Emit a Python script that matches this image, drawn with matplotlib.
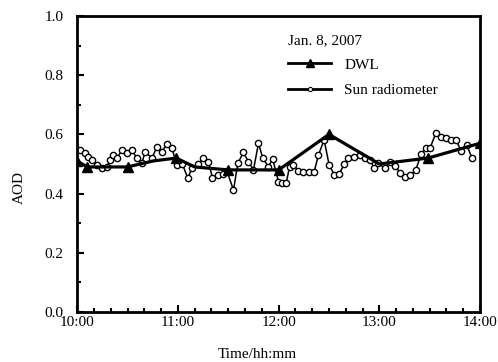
import numpy as np
import matplotlib.pyplot as plt
from matplotlib.lines import Line2D
from matplotlib.ticker import MultipleLocator

plt.rcParams['font.family'] = 'Liberation Serif'

# time axis in minutes after 10:00
tick_pos = [0, 60, 120, 180, 240]
tick_labels = ['10:00', '11:00', '12:00', '13:00', '14:00']

# DWL retrievals
dwl_min = [0, 6, 30, 45, 59, 70, 90, 120, 150, 180, 209, 240]
dwl_aod = [0.51, 0.49, 0.49, 0.51, 0.52, 0.49, 0.48, 0.48, 0.60, 0.50, 0.52, 0.57]
dwl_marked = [0, 1, 2, 4, 6, 7, 8, 10, 11]

# sun radiometer
sun_min = [1.8, 4.8, 6.7, 8.8, 11.7, 14.7, 17.7, 19.7, 21.6, 23.6, 26.6, 29.6,
           32.6, 35.6, 38.5, 40.5, 44.5, 47.5, 50.4, 53.4, 56.4, 59.4, 62.7,
           65.9, 68.3, 71.9, 75.2, 78.2, 80.6, 83.8, 86.8, 89.2, 93.1, 95.7,
           99.0, 102.0, 105.0, 108.0, 110.6, 113.9, 116.5, 119.9, 122.0, 124.5,
           126.5, 128.8, 131.8, 134.8, 137.8, 141.1, 143.7, 147.1, 150.1, 153.2,
           156.0, 159.0, 161.6, 164.9, 168.5, 171.5, 174.5, 177.0, 179.4, 183.4,
           186.4, 189.4, 192.4, 195.3, 198.3, 201.7, 204.9, 207.7, 210.2, 213.6,
           216.8, 219.8, 222.7, 225.7, 228.7, 232.1, 235.1]
sun_aod = [0.547, 0.536, 0.525, 0.513, 0.497, 0.488, 0.491, 0.513, 0.530, 0.519,
           0.547, 0.536, 0.547, 0.519, 0.502, 0.542, 0.519, 0.558, 0.542, 0.567,
           0.553, 0.497, 0.499, 0.452, 0.485, 0.499, 0.521, 0.508, 0.452, 0.463,
           0.465, 0.476, 0.412, 0.502, 0.539, 0.508, 0.480, 0.570, 0.519, 0.491,
           0.517, 0.440, 0.435, 0.435, 0.491, 0.497, 0.476, 0.472, 0.472, 0.472,
           0.530, 0.581, 0.497, 0.463, 0.465, 0.499, 0.519, 0.525, 0.530, 0.519,
           0.513, 0.485, 0.502, 0.485, 0.508, 0.494, 0.469, 0.457, 0.463, 0.480,
           0.533, 0.553, 0.553, 0.604, 0.592, 0.587, 0.581, 0.581, 0.544, 0.564,
           0.521]

fig = plt.figure(figsize=(4.98, 3.62), dpi=100)
ax = fig.add_axes([0.155, 0.138, 0.809, 0.818])

ax.plot(sun_min, sun_aod, color='black', lw=1.1, marker='o', ms=4.5,
        mfc='white', mec='black', mew=1.0, zorder=2)
ax.plot(dwl_min, dwl_aod, color='black', lw=2.3, marker='^', ms=7.5,
        markevery=dwl_marked, zorder=3)

ax.set_xlim(0, 240)
ax.set_ylim(0, 1.0)
ax.set_xticks(tick_pos)
ax.set_xticklabels(tick_labels)
ax.xaxis.set_minor_locator(MultipleLocator(10))
ax.yaxis.set_major_locator(MultipleLocator(0.2))
ax.yaxis.set_minor_locator(MultipleLocator(0.1))
ax.yaxis.set_major_formatter(plt.FuncFormatter(lambda v, p: f'{v:.1f}'))

ax.tick_params(which='both', direction='in', top=False, right=False,
               width=1.5, labelsize=11)
ax.tick_params(which='major', length=5)
ax.tick_params(which='minor', length=3)
ax.tick_params(axis='x', pad=3)
ax.tick_params(axis='y', pad=10)
for s in ax.spines.values():
    s.set_linewidth(2.0)

ax.set_xlabel('Time/hh:mm', fontsize=11)
ax.set_ylabel('AOD', fontsize=11)
ax.xaxis.set_label_coords(0.447, -0.12)
ax.yaxis.set_label_coords(-0.128, 0.42)

handles = [
    Line2D([], [], color='black', lw=2.0, marker='^', ms=6),
    Line2D([], [], color='black', lw=2.0, marker='o', ms=3,
           mfc='white', mec='black', mew=0.8),
]
leg = ax.legend(handles, ['DWL', 'Sun radiometer'], title='Jan. 8, 2007',
                frameon=False, fontsize=11, title_fontsize=11,
                handlelength=2.8, handletextpad=0.85, labelspacing=0.75,
                borderpad=0, loc='upper left', bbox_to_anchor=(0.505, 0.965))
leg._legend_box.align = 'left'
leg._legend_box.sep = 8

fig.savefig('out.png', dpi=100)
